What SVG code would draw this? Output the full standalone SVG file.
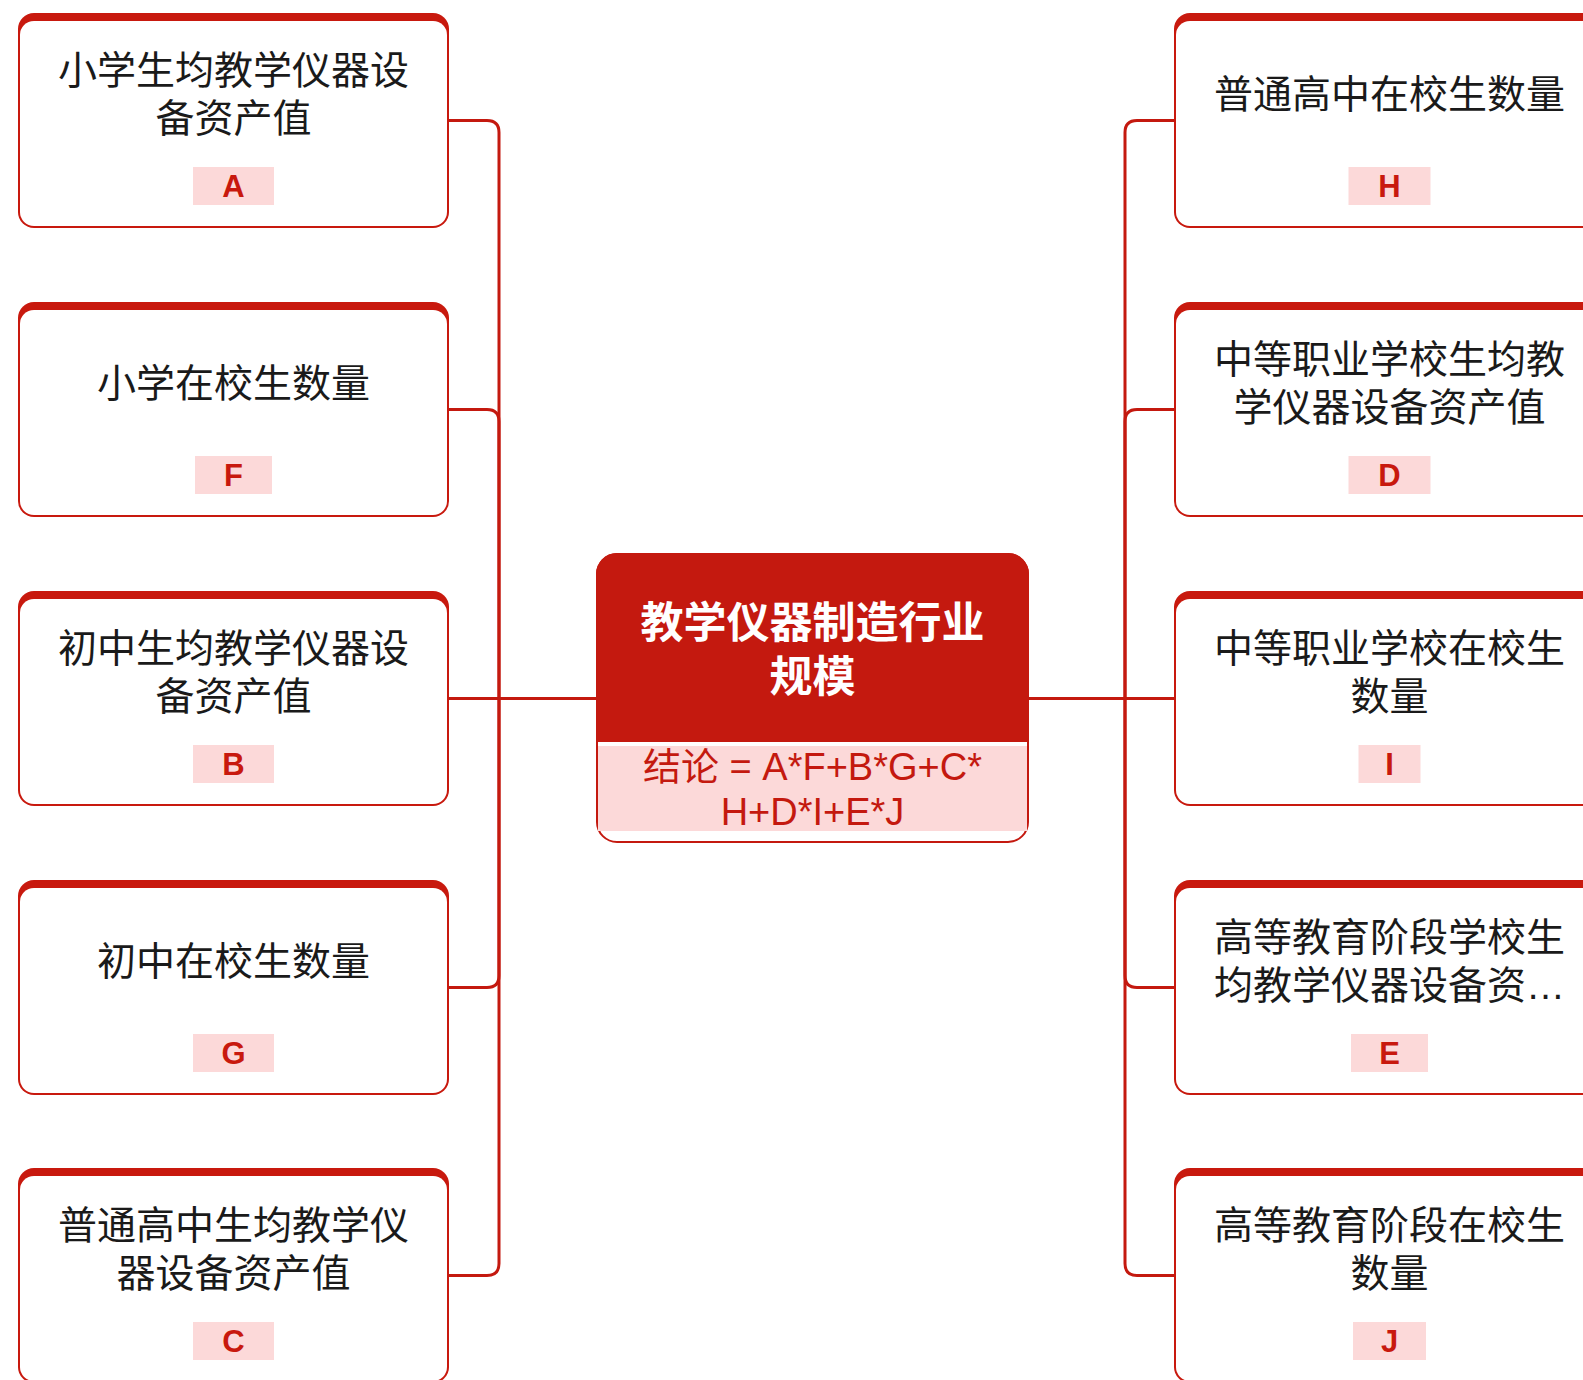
<svg xmlns="http://www.w3.org/2000/svg" width="1583" height="1380" viewBox="0 0 1583 1380">
<style>
.bg{fill:#ffffff}
.conn{fill:none;stroke:#C4190F;stroke-width:3;stroke-linejoin:round}
.outer{fill:#C8190E}
.inner{fill:#ffffff}
.txt{font-family:"Liberation Sans","Noto Sans CJK SC",sans-serif;font-size:39px;fill:#1a1a1a;text-anchor:middle}
.lab{fill:#FCD9D9}
.labt{font-family:"Liberation Sans","Noto Sans CJK SC",sans-serif;font-size:31px;font-weight:bold;fill:#C8190E;text-anchor:middle}
.ctitle{font-family:"Liberation Sans","Noto Sans CJK SC",sans-serif;font-size:43px;font-weight:bold;fill:#ffffff;text-anchor:middle}
.cform{font-family:"Liberation Sans","Noto Sans CJK SC",sans-serif;font-size:38px;fill:#C4190F;text-anchor:middle}
</style>
<rect class="bg" x="0" y="0" width="1583" height="1380"/>
<g id="connectors">
<path class="conn" d="M597 698.5 H499 V132.5 Q499 120.5 487 120.5 H449"/>
<path class="conn" d="M597 698.5 H499 V421.5 Q499 409.5 487 409.5 H449"/>
<path class="conn" d="M597 698.5 H449"/>
<path class="conn" d="M597 698.5 H499 V975.5 Q499 987.5 487 987.5 H449"/>
<path class="conn" d="M597 698.5 H499 V1263.5 Q499 1275.5 487 1275.5 H449"/>
<path class="conn" d="M1028 698.5 H1125 V132.5 Q1125 120.5 1137 120.5 H1174"/>
<path class="conn" d="M1028 698.5 H1125 V421.5 Q1125 409.5 1137 409.5 H1174"/>
<path class="conn" d="M1028 698.5 H1174"/>
<path class="conn" d="M1028 698.5 H1125 V975.5 Q1125 987.5 1137 987.5 H1174"/>
<path class="conn" d="M1028 698.5 H1125 V1263.5 Q1125 1275.5 1137 1275.5 H1174"/>
</g>
<g id="center">
<rect x="597" y="554" width="431" height="288" rx="20" fill="#ffffff" stroke="#C4190F" stroke-width="2"/>
<path d="M596 742 V574 A21 21 0 0 1 617 553 H1008 A21 21 0 0 1 1029 574 V742 Z" fill="#C4190F"/>
<rect x="598" y="746" width="429" height="85" fill="#FCD9D9"/>
<text class="ctitle" x="812.5" y="638">教学仪器制造行业</text>
<text class="ctitle" x="812.5" y="692">规模</text>
<text class="cform" x="812.5" y="780">结论 = A*F+B*G+C*</text>
<text class="cform" x="812.5" y="825">H+D*I+E*J</text>
</g>
<g id="nodeA">
<rect class="outer" x="18" y="13" width="431" height="215" rx="16"/>
<rect class="inner" x="20" y="21" width="427" height="205" rx="14"/>
<text class="txt" x="233.5" y="84">小学生均教学仪器设</text>
<text class="txt" x="233.5" y="131.5">备资产值</text>
<rect class="lab" x="193" y="167" width="81" height="38"/>
<text class="labt" x="233.5" y="197">A</text>
</g>
<g id="nodeF">
<rect class="outer" x="18" y="302" width="431" height="215" rx="16"/>
<rect class="inner" x="20" y="310" width="427" height="205" rx="14"/>
<text class="txt" x="233.5" y="396.5">小学在校生数量</text>
<rect class="lab" x="195" y="456" width="77" height="38"/>
<text class="labt" x="233.5" y="486">F</text>
</g>
<g id="nodeB">
<rect class="outer" x="18" y="591" width="431" height="215" rx="16"/>
<rect class="inner" x="20" y="599" width="427" height="205" rx="14"/>
<text class="txt" x="233.5" y="662">初中生均教学仪器设</text>
<text class="txt" x="233.5" y="709.5">备资产值</text>
<rect class="lab" x="193" y="745" width="81" height="38"/>
<text class="labt" x="233.5" y="775">B</text>
</g>
<g id="nodeG">
<rect class="outer" x="18" y="880" width="431" height="215" rx="16"/>
<rect class="inner" x="20" y="888" width="427" height="205" rx="14"/>
<text class="txt" x="233.5" y="974.5">初中在校生数量</text>
<rect class="lab" x="193" y="1034" width="81" height="38"/>
<text class="labt" x="233.5" y="1064">G</text>
</g>
<g id="nodeC">
<rect class="outer" x="18" y="1168" width="431" height="215" rx="16"/>
<rect class="inner" x="20" y="1176" width="427" height="205" rx="14"/>
<text class="txt" x="233.5" y="1239">普通高中生均教学仪</text>
<text class="txt" x="233.5" y="1286.5">器设备资产值</text>
<rect class="lab" x="193" y="1322" width="81" height="38"/>
<text class="labt" x="233.5" y="1352">C</text>
</g>
<g id="nodeH">
<rect class="outer" x="1174" y="13" width="431" height="215" rx="16"/>
<rect class="inner" x="1176" y="21" width="427" height="205" rx="14"/>
<text class="txt" x="1389.5" y="107.5">普通高中在校生数量</text>
<rect class="lab" x="1348.5" y="167" width="82" height="38"/>
<text class="labt" x="1389.5" y="197">H</text>
</g>
<g id="nodeD">
<rect class="outer" x="1174" y="302" width="431" height="215" rx="16"/>
<rect class="inner" x="1176" y="310" width="427" height="205" rx="14"/>
<text class="txt" x="1389.5" y="373">中等职业学校生均教</text>
<text class="txt" x="1389.5" y="420.5">学仪器设备资产值</text>
<rect class="lab" x="1348.5" y="456" width="82" height="38"/>
<text class="labt" x="1389.5" y="486">D</text>
</g>
<g id="nodeI">
<rect class="outer" x="1174" y="591" width="431" height="215" rx="16"/>
<rect class="inner" x="1176" y="599" width="427" height="205" rx="14"/>
<text class="txt" x="1389.5" y="662">中等职业学校在校生</text>
<text class="txt" x="1389.5" y="709.5">数量</text>
<rect class="lab" x="1358.5" y="745" width="62" height="38"/>
<text class="labt" x="1389.5" y="775">I</text>
</g>
<g id="nodeE">
<rect class="outer" x="1174" y="880" width="431" height="215" rx="16"/>
<rect class="inner" x="1176" y="888" width="427" height="205" rx="14"/>
<text class="txt" x="1389.5" y="951">高等教育阶段学校生</text>
<text class="txt" x="1389.5" y="998.5">均教学仪器设备资…</text>
<rect class="lab" x="1351" y="1034" width="77" height="38"/>
<text class="labt" x="1389.5" y="1064">E</text>
</g>
<g id="nodeJ">
<rect class="outer" x="1174" y="1168" width="431" height="215" rx="16"/>
<rect class="inner" x="1176" y="1176" width="427" height="205" rx="14"/>
<text class="txt" x="1389.5" y="1239">高等教育阶段在校生</text>
<text class="txt" x="1389.5" y="1286.5">数量</text>
<rect class="lab" x="1353" y="1322" width="73" height="38"/>
<text class="labt" x="1389.5" y="1352">J</text>
</g>
</svg>
